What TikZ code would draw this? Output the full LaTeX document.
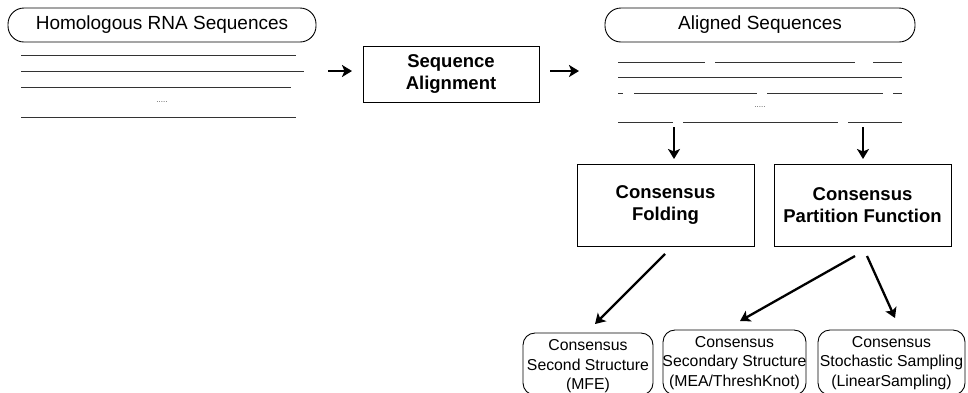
\documentclass[tikz,border=0pt]{standalone}
\usepackage{fontspec}
\setmainfont{Liberation Sans}
\usetikzlibrary{arrows.meta}
\begin{document}
\begin{tikzpicture}[x=1pt,y=-1pt,
 pill/.style={draw, line width=0.9pt, rounded corners=16pt, inner sep=0pt, font=\fontsize{19}{23}\selectfont},
 plainbox/.style={draw, line width=0.9pt, inner sep=0pt, align=center, font=\bfseries\fontsize{18.5}{22.5}\selectfont},
 rbox/.style={draw, line width=0.9pt, rounded corners=12pt, inner sep=0pt},
 seqline/.style={line width=0.9pt, black!80},
 arr/.style={line width=2.3pt, -{Stealth[length=10pt,width=12pt,inset=2.5pt]}},
 txt/.style={align=center, inner sep=0pt, font=\fontsize{15.8}{19.5}\selectfont},
 dots/.style={inner sep=0pt, font=\fontsize{8}{8}\selectfont, black!70},
]
\useasboundingbox (0,0) rectangle (968,392);

% top boxes
\node[pill, minimum width=308pt, minimum height=34pt] (homo) at (162,25) {Homologous RNA Sequences};
\node[pill, minimum width=310pt, minimum height=34pt] (aligned) at (760,25) {Aligned Sequences};
\node[plainbox, minimum width=176pt, minimum height=56pt] (seqal) at (451,74) {Sequence\\Alignment};

% raw sequences
\draw[seqline] (21,55) -- (296,55);
\draw[seqline] (21,71) -- (304,71);
\draw[seqline] (21,87) -- (291,87);
\node[dots] (dots1) at (162,102) {.....};
\draw[seqline] (21,117) -- (296,117);

% aligned sequences
\draw[seqline] (618,62) -- (705,62);
\draw[seqline] (715,62) -- (855,62);
\draw[seqline] (873,62) -- (902,62);
\draw[seqline] (618,77) -- (902,77);
\draw[seqline] (618,93) -- (623,93);
\draw[seqline] (634,93) -- (757,93);
\draw[seqline] (767,93) -- (883,93);
\draw[seqline] (893,93) -- (902,93);
\node[dots] (dots2) at (760,107) {.....};
\draw[seqline] (618,122) -- (673,122);
\draw[seqline] (683,122) -- (838,122);
\draw[seqline] (848,122) -- (902,122);

% middle boxes
\node[plainbox, minimum width=177pt, minimum height=82pt] (fold) at (665.5,205) {Consensus\\Folding};
\node[plainbox, minimum width=177pt, minimum height=82pt] (part) at (862.5,205) {Consensus\\Partition Function};

% bottom boxes
\node[rbox, minimum width=130pt, minimum height=62pt] (mfe) at (588,364) {};
\node[rbox, minimum width=143pt, minimum height=65pt] (mea) at (734.5,362.5) {};
\node[rbox, minimum width=147pt, minimum height=65pt] (samp) at (891.5,362.5) {};
\node[txt] (mfet) at (588,366.5) {Consensus\\Second Structure\\(MFE)};
\node[txt] (meat) at (734.5,363) {Consensus\\Secondary Structure\\(MEA/ThreshKnot)};
\node[txt] (sampt) at (891.5,363) {Consensus\\Stochastic Sampling\\(LinearSampling)};

% arrow end points
\coordinate (a1s) at (328,71);
\coordinate (a1e) at (352,71);
\coordinate (a2s) at (550,71);
\coordinate (a2e) at (579,71);
\coordinate (d1s) at (674,127);
\coordinate (d1e) at (674,159);
\coordinate (d2s) at (863,127);
\coordinate (d2e) at (863,159);
\coordinate (g1s) at (665,254);
\coordinate (g1e) at (595,324);
\coordinate (g2s) at (855,256);
\coordinate (g2e) at (740,321);
\coordinate (g3s) at (867,256);
\coordinate (g3e) at (895,318);

\draw[arr] (a1s) -- (a1e);
\draw[arr] (a2s) -- (a2e);
\draw[arr] (d1s) -- (d1e);
\draw[arr] (d2s) -- (d2e);
\draw[arr] (g1s) -- (g1e);
\draw[arr] (g2s) -- (g2e);
\draw[arr] (g3s) -- (g3e);
\end{tikzpicture}
\end{document}
